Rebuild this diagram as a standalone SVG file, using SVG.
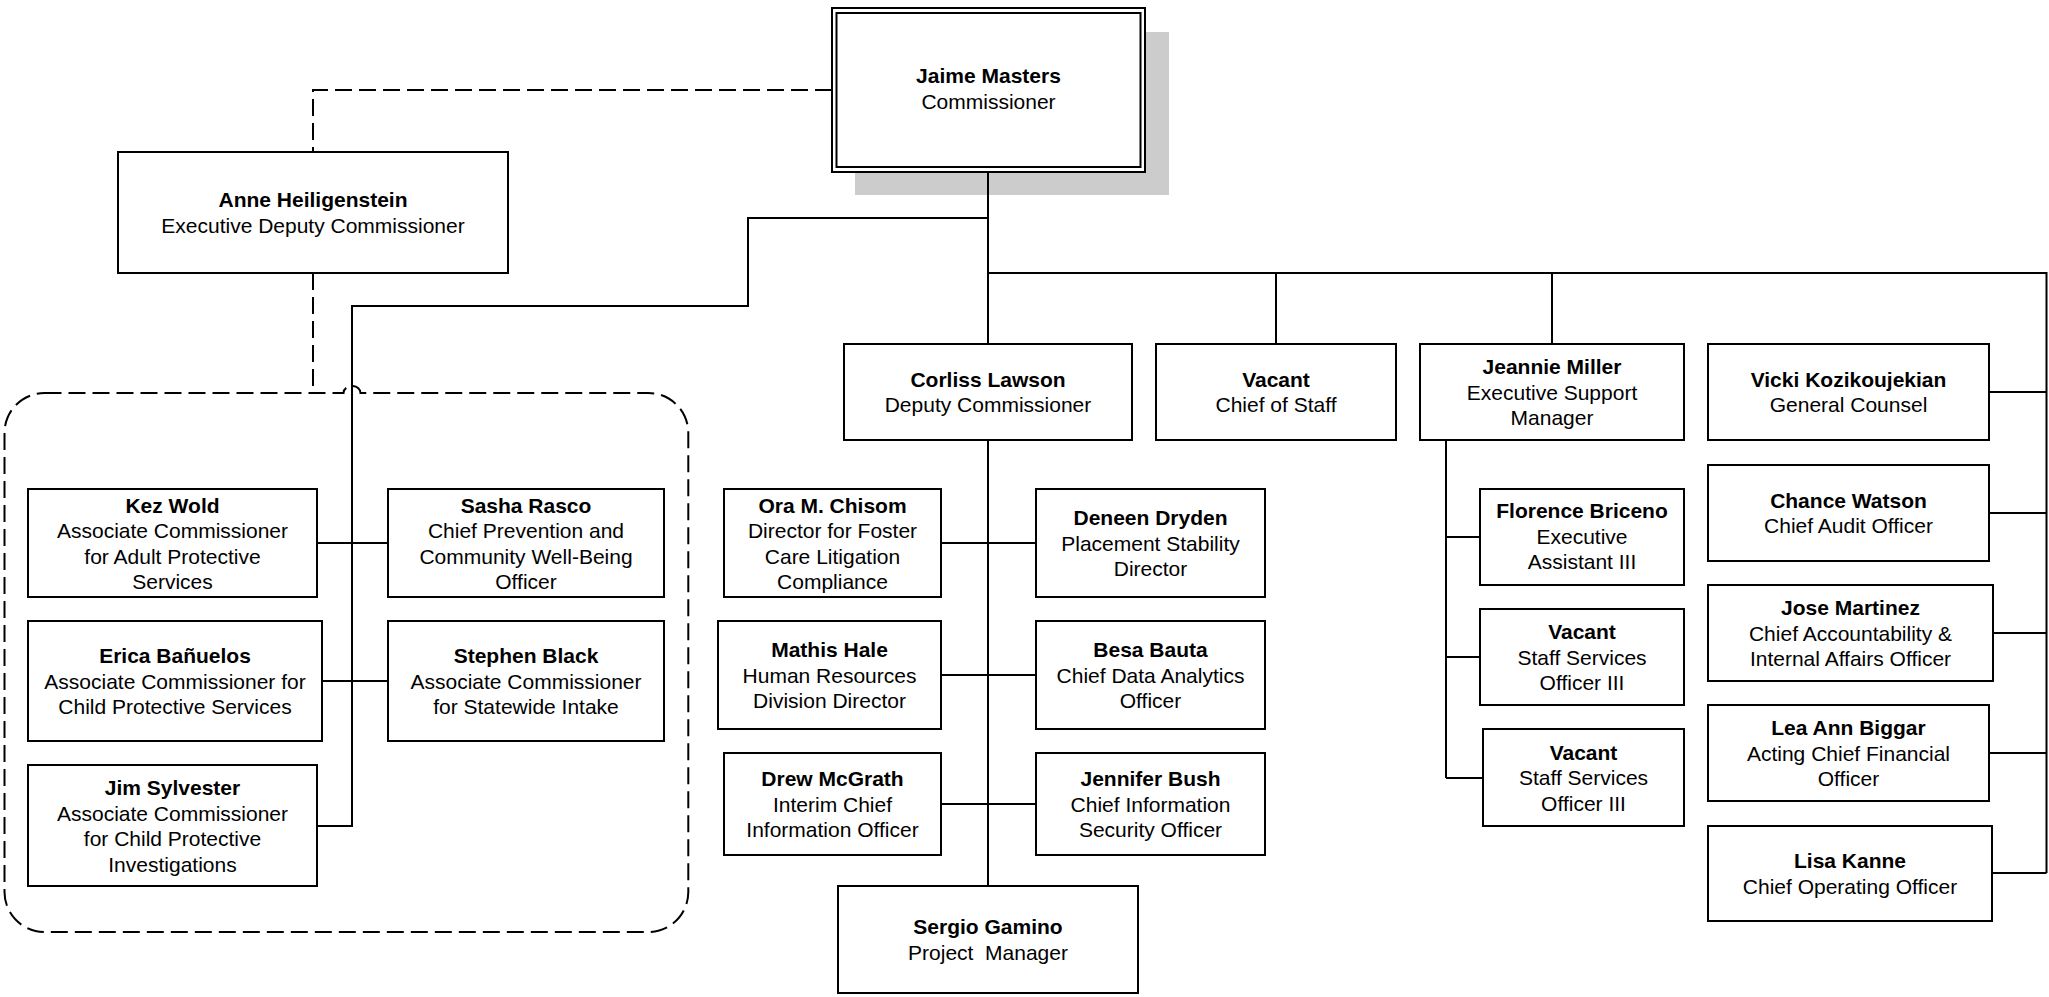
<svg xmlns="http://www.w3.org/2000/svg" width="2049" height="997" viewBox="0 0 2049 997">
<style>
.box{fill:#fff;stroke:#000;stroke-width:2}
.ln{fill:none;stroke:#000;stroke-width:2}
.dash{fill:none;stroke:#000;stroke-width:2;stroke-dasharray:17 7}
text{font-family:"Liberation Sans",Arial,sans-serif;font-size:21px;text-anchor:middle;fill:#000;white-space:pre}
.n{font-weight:bold}
</style>
<rect width="2049" height="997" fill="#fff"/>
<g id="connectors">
<path class="dash" d="M832 90 H313 V152"/>
<path class="dash" d="M313 273 V393"/>
<path class="dash" d="M44.5 393 H343.5 A8.5 7 0 0 1 360.5 393 H648.3 A40 40 0 0 1 688.3 433 V892 A40 40 0 0 1 648.3 932 H44.5 A40 40 0 0 1 4.5 892 V433 A40 40 0 0 1 44.5 393 Z"/>
<path class="ln" d="M988 218 H748 V306 H352 V826 H317"/>
<path class="ln" d="M317 543 H388 M322 681 H388"/>
<path class="ln" d="M988 273 H2046.5 V873 M1276 273 V344 M1552 273 V344"/>
<path class="ln" d="M1989 392 H2046.5 M1989 513 H2046.5 M1993 633 H2046.5 M1989 753 H2046.5 M1992 873 H2046.5"/>
<path class="ln" d="M1446 440 V778 M1446 537 H1480 M1446 657 H1480 M1446 778 H1483"/>
<path class="ln" d="M988 440 V886 M941 543 H1036 M941 675 H1036 M941 804 H1036"/>
</g>
<g id="commissioner">
<rect x="855" y="32" width="314" height="163" fill="#cccccc"/>
<path class="ln" d="M988 172 V344"/>
<rect class="box" x="832" y="8" width="313" height="164"/>
<rect class="box" x="836.5" y="13" width="304" height="154"/>
<text x="988.5" y="83"><tspan class="n">Jaime Masters</tspan><tspan x="988.5" dy="26">Commissioner</tspan></text>
</g>
<g id="anne">
<rect class="box" x="118" y="152" width="390" height="121"/>
<text x="313" y="207"><tspan class="n">Anne Heiligenstein</tspan><tspan x="313" dy="25.5">Executive Deputy Commissioner</tspan></text>
</g>
<g id="corliss">
<rect class="box" x="844" y="344" width="288" height="96"/>
<text x="988" y="386.5"><tspan class="n">Corliss Lawson</tspan><tspan x="988" dy="25.5">Deputy Commissioner</tspan></text>
</g>
<g id="chief-of-staff">
<rect class="box" x="1156" y="344" width="240" height="96"/>
<text x="1276" y="386.5"><tspan class="n">Vacant</tspan><tspan x="1276" dy="25.5">Chief of Staff</tspan></text>
</g>
<g id="jeannie">
<rect class="box" x="1420" y="344" width="264" height="96"/>
<text x="1552" y="374"><tspan class="n">Jeannie Miller</tspan><tspan x="1552" dy="25.5">Executive Support</tspan><tspan x="1552" dy="25.5">Manager</tspan></text>
</g>
<g id="vicki">
<rect class="box" x="1708" y="344" width="281" height="96"/>
<text x="1848.5" y="386.5"><tspan class="n">Vicki Kozikoujekian</tspan><tspan x="1848.5" dy="25.5">General Counsel</tspan></text>
</g>
<g id="chance">
<rect class="box" x="1708" y="465" width="281" height="96"/>
<text x="1848.5" y="507.5"><tspan class="n">Chance Watson</tspan><tspan x="1848.5" dy="25.5">Chief Audit Officer</tspan></text>
</g>
<g id="jose">
<rect class="box" x="1708" y="585" width="285" height="96"/>
<text x="1850.5" y="615"><tspan class="n">Jose Martinez</tspan><tspan x="1850.5" dy="25.5">Chief Accountability &amp;</tspan><tspan x="1850.5" dy="25.5">Internal Affairs Officer</tspan></text>
</g>
<g id="lea">
<rect class="box" x="1708" y="705" width="281" height="96"/>
<text x="1848.5" y="735"><tspan class="n">Lea Ann Biggar</tspan><tspan x="1848.5" dy="25.5">Acting Chief Financial</tspan><tspan x="1848.5" dy="25.5">Officer</tspan></text>
</g>
<g id="lisa">
<rect class="box" x="1708" y="826" width="284" height="95"/>
<text x="1850" y="868"><tspan class="n">Lisa Kanne</tspan><tspan x="1850" dy="25.5">Chief Operating Officer</tspan></text>
</g>
<g id="florence">
<rect class="box" x="1480" y="489" width="204" height="96"/>
<text x="1582" y="518"><tspan class="n">Florence Briceno</tspan><tspan x="1582" dy="25.5">Executive</tspan><tspan x="1582" dy="25.5">Assistant III</tspan></text>
</g>
<g id="vacant-sso-1">
<rect class="box" x="1480" y="609" width="204" height="96"/>
<text x="1582" y="639"><tspan class="n">Vacant</tspan><tspan x="1582" dy="25.5">Staff Services</tspan><tspan x="1582" dy="25.5">Officer III</tspan></text>
</g>
<g id="vacant-sso-2">
<rect class="box" x="1483" y="729" width="201" height="97"/>
<text x="1583.5" y="759.5"><tspan class="n">Vacant</tspan><tspan x="1583.5" dy="25.5">Staff Services</tspan><tspan x="1583.5" dy="25.5">Officer III</tspan></text>
</g>
<g id="ora">
<rect class="box" x="724" y="489" width="217" height="108"/>
<text x="832.5" y="512.5"><tspan class="n">Ora M. Chisom</tspan><tspan x="832.5" dy="25.5">Director for Foster</tspan><tspan x="832.5" dy="25.5">Care Litigation</tspan><tspan x="832.5" dy="25.5">Compliance</tspan></text>
</g>
<g id="deneen">
<rect class="box" x="1036" y="489" width="229" height="108"/>
<text x="1150.5" y="525"><tspan class="n">Deneen Dryden</tspan><tspan x="1150.5" dy="25.5">Placement Stability</tspan><tspan x="1150.5" dy="25.5">Director</tspan></text>
</g>
<g id="mathis">
<rect class="box" x="718" y="621" width="223" height="108"/>
<text x="829.5" y="657"><tspan class="n">Mathis Hale</tspan><tspan x="829.5" dy="25.5">Human Resources</tspan><tspan x="829.5" dy="25.5">Division Director</tspan></text>
</g>
<g id="besa">
<rect class="box" x="1036" y="621" width="229" height="108"/>
<text x="1150.5" y="657"><tspan class="n">Besa Bauta</tspan><tspan x="1150.5" dy="25.5">Chief Data Analytics</tspan><tspan x="1150.5" dy="25.5">Officer</tspan></text>
</g>
<g id="drew">
<rect class="box" x="724" y="753" width="217" height="102"/>
<text x="832.5" y="786"><tspan class="n">Drew McGrath</tspan><tspan x="832.5" dy="25.5">Interim Chief</tspan><tspan x="832.5" dy="25.5">Information Officer</tspan></text>
</g>
<g id="jennifer">
<rect class="box" x="1036" y="753" width="229" height="102"/>
<text x="1150.5" y="786"><tspan class="n">Jennifer Bush</tspan><tspan x="1150.5" dy="25.5">Chief Information</tspan><tspan x="1150.5" dy="25.5">Security Officer</tspan></text>
</g>
<g id="sergio">
<rect class="box" x="838" y="886" width="300" height="107"/>
<text x="988" y="934"><tspan class="n">Sergio Gamino</tspan><tspan x="988" dy="25.5">Project  Manager</tspan></text>
</g>
<g id="kez">
<rect class="box" x="28" y="489" width="289" height="108"/>
<text x="172.5" y="512.5"><tspan class="n">Kez Wold</tspan><tspan x="172.5" dy="25.5">Associate Commissioner</tspan><tspan x="172.5" dy="25.5">for Adult Protective</tspan><tspan x="172.5" dy="25.5">Services</tspan></text>
</g>
<g id="sasha">
<rect class="box" x="388" y="489" width="276" height="108"/>
<text x="526" y="512.5"><tspan class="n">Sasha Rasco</tspan><tspan x="526" dy="25.5">Chief Prevention and</tspan><tspan x="526" dy="25.5">Community Well-Being</tspan><tspan x="526" dy="25.5">Officer</tspan></text>
</g>
<g id="erica">
<rect class="box" x="28" y="621" width="294" height="120"/>
<text x="175" y="663"><tspan class="n">Erica Bañuelos</tspan><tspan x="175" dy="25.5">Associate Commissioner for</tspan><tspan x="175" dy="25.5">Child Protective Services</tspan></text>
</g>
<g id="stephen">
<rect class="box" x="388" y="621" width="276" height="120"/>
<text x="526" y="663"><tspan class="n">Stephen Black</tspan><tspan x="526" dy="25.5">Associate Commissioner</tspan><tspan x="526" dy="25.5">for Statewide Intake</tspan></text>
</g>
<g id="jim">
<rect class="box" x="28" y="765" width="289" height="121"/>
<text x="172.5" y="795"><tspan class="n">Jim Sylvester</tspan><tspan x="172.5" dy="25.5">Associate Commissioner</tspan><tspan x="172.5" dy="25.5">for Child Protective</tspan><tspan x="172.5" dy="25.5">Investigations</tspan></text>
</g>
</svg>
